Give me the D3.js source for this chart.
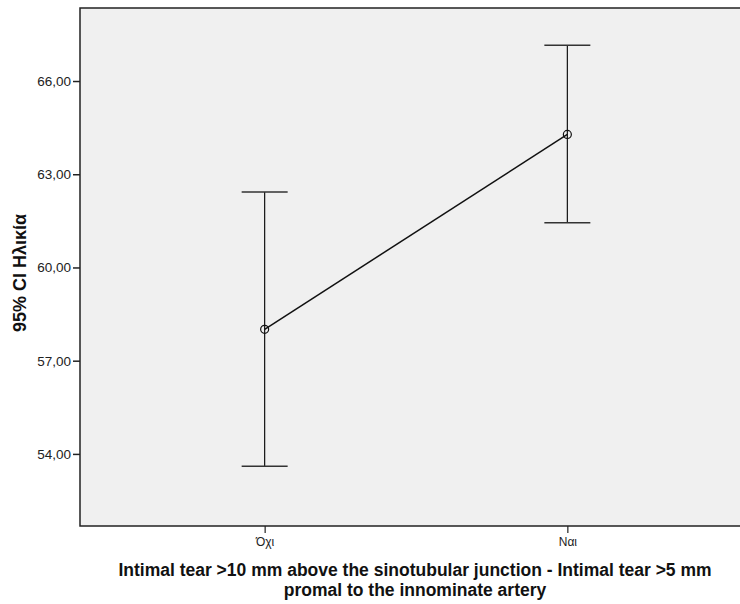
<!DOCTYPE html>
<html>
<head>
<meta charset="utf-8">
<script src="https://cdn.jsdelivr.net/npm/d3@7"></script>
<style>
  body { margin: 0; background: #fff; }
  svg { display: block; font-family: Arial, "Liberation Sans", sans-serif; }
</style>
</head>
<body>
<div id="chart"></div>
<script>
const categories = ['Όχι', 'Ναι'];
const means = [58.01, 64.28];
const lower = [53.60, 61.44];
const upper = [62.43, 67.15];
const yTicks = [54, 57, 60, 63, 66];
const xTitle = ['Intimal tear >10 mm above the sinotubular junction - Intimal tear >5 mm',
    'promal to the innominate artery'];
const yTitle = '95% CI Ηλικία';

const width = 740;
const height = 604;
const margin = { top: 8, right: -12, bottom: 78, left: 80 };
const innerWidth = width - margin.left - margin.right;
const innerHeight = height - margin.top - margin.bottom;

const svg = d3.select('#chart')
    .append('svg')
    .attr('width', width)
    .attr('height', height);

const g = svg.append('g')
    .attr('transform', `translate(${margin.left},${margin.top})`);

g.append('rect')
    .attr('width', innerWidth)
    .attr('height', innerHeight)
    .attr('fill', '#f0f0f0')
    .attr('stroke', '#222')
    .attr('stroke-width', 1.5);

const x = d3.scalePoint()
    .domain(categories)
    .range([0, innerWidth])
    .padding(0.61);

const y = d3.scaleLinear()
    .domain([51.68, 68.35])
    .range([innerHeight, 0]);

const fmt = d => d3.format('.2f')(d).replace('.', ',');

const yAxis = g.append('g')
    .call(d3.axisLeft(y).tickValues(yTicks).tickFormat(fmt).tickSize(7).tickPadding(2));
yAxis.select('.domain').remove();
yAxis.selectAll('line').attr('stroke', '#222').attr('stroke-width', 1.5);
yAxis.selectAll('text')
    .style('fill', '#222')
    .style('font-size', '13.5px')
    .style('font-family', 'Arial, "Liberation Sans", sans-serif');

const xAxis = g.append('g')
    .attr('transform', `translate(0,${innerHeight})`)
    .call(d3.axisBottom(x).tickSize(7).tickPadding(4));
xAxis.select('.domain').remove();
xAxis.selectAll('line').attr('stroke', '#222').attr('stroke-width', 1.2);
xAxis.selectAll('text')
    .style('fill', '#222')
    .style('font-size', '12px')
    .style('font-family', 'Arial, "Liberation Sans", sans-serif');

// error bars
const capHalf = 23;
categories.forEach((c, i) => {
    const cx = x(c);
    g.append('line')
        .attr('x1', cx).attr('x2', cx)
        .attr('y1', y(upper[i])).attr('y2', y(lower[i]))
        .attr('stroke', '#111').attr('stroke-width', 1.2);
    [upper[i], lower[i]].forEach(v => {
        g.append('line')
            .attr('x1', cx - capHalf).attr('x2', cx + capHalf)
            .attr('y1', y(v)).attr('y2', y(v))
            .attr('stroke', '#333').attr('stroke-width', 1.5);
    });
});

const line = d3.line()
    .x((d, i) => x(categories[i]))
    .y(d => y(d));

g.append('path')
    .datum(means)
    .attr('fill', 'none')
    .attr('stroke', '#111')
    .attr('stroke-width', 1.5)
    .attr('d', line);

g.selectAll('.dot')
    .data(means)
    .enter()
    .append('circle')
    .attr('class', 'dot')
    .attr('cx', (d, i) => x(categories[i]))
    .attr('cy', d => y(d))
    .attr('r', 4)
    .attr('fill', 'none')
    .attr('stroke', '#111')
    .attr('stroke-width', 1.2);

// axis titles
svg.append('text')
    .attr('transform', `translate(26,${margin.top + innerHeight / 2 + 6}) rotate(-90)`)
    .attr('text-anchor', 'middle')
    .style('font-size', '18px')
    .style('font-weight', 'bold')
    .style('fill', '#111')
    .text(yTitle);

svg.selectAll('.xtitle')
    .data(xTitle)
    .enter()
    .append('text')
    .attr('class', 'xtitle')
    .attr('x', 415)
    .attr('y', (d, i) => 576 + i * 20)
    .attr('text-anchor', 'middle')
    .style('font-size', '17.5px')
    .style('font-weight', 'bold')
    .style('fill', '#111')
    .text(d => d);
</script>
</body>
</html>
